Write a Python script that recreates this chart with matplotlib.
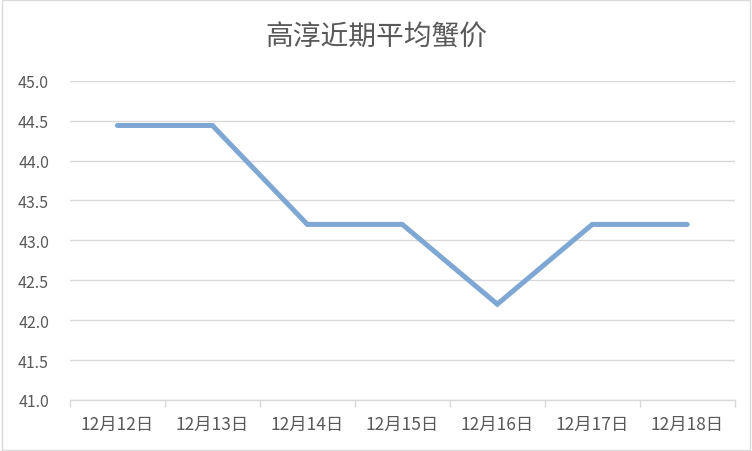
import matplotlib
matplotlib.use('Agg')
import matplotlib.pyplot as plt
import numpy as np

plt.rcParams['font.family'] = ['Noto Sans CJK SC', 'DejaVu Sans']

# Data
dates = ['12月12日', '12月13日', '12月14日', '12月15日', '12月16日', '12月17日', '12月18日']
prices = [44.44, 44.44, 43.2, 43.2, 42.2, 43.2, 43.2]
y_ticks = [41.0, 41.5, 42.0, 42.5, 43.0, 43.5, 44.0, 44.5, 45.0]

fig = plt.figure(figsize=(7.52, 4.52), dpi=100)
ax = fig.add_axes([0.093, 0.113, 0.884, 0.706])

x = np.arange(len(dates))
ax.plot(x, prices, color='#7ea7d3', linewidth=3.6, solid_capstyle='round',
        solid_joinstyle='miter', zorder=3)

ax.set_xlim(-0.5, len(dates) - 0.5)
ax.set_ylim(41.0, 45.0)
ax.set_yticks(y_ticks)
ax.set_yticklabels([f'{v:.1f}' for v in y_ticks])
ax.set_xticks(x)
ax.set_xticklabels(dates)
ax.set_xticks(np.arange(len(dates) + 1) - 0.5, minor=True)

ax.grid(axis='y', color='#d9d9d9', linewidth=1.0, zorder=0)
for s in ['left', 'right', 'top']:
    ax.spines[s].set_visible(False)
ax.spines['bottom'].set_color('#d9d9d9')
ax.spines['bottom'].set_linewidth(1.0)

ax.tick_params(axis='y', length=0, labelsize=11.5, labelcolor='#595959', pad=15)
ax.tick_params(axis='x', which='major', length=0, labelsize=12.5, labelcolor='#595959', pad=11)
ax.tick_params(axis='x', which='minor', length=5, color='#d9d9d9', width=1.0)

fig.text(0.5, 0.917, '高淳近期平均蟹价', ha='center', va='center',
         fontsize=20, color='#595959', fontweight='light')

# light border around the chart area
fig.patches.append(plt.Rectangle((0.002, 0.002), 0.996, 0.996, transform=fig.transFigure,
                                 fill=False, edgecolor='#d9d9d9', linewidth=1.0))

fig.savefig('out.png', dpi=100)
